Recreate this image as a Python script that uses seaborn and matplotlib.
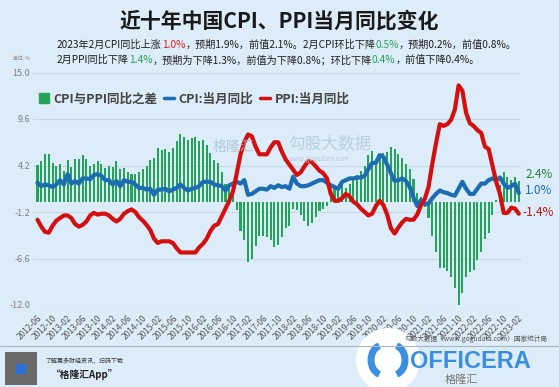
import numpy as np
import pandas as pd
import matplotlib
matplotlib.use("Agg")
import matplotlib.pyplot as plt
import seaborn as sns
from matplotlib.lines import Line2D
from matplotlib.patches import Patch, Ellipse, Rectangle, Arc

# ---------------- data ----------------
months = pd.period_range("2012-06", "2023-02", freq="M").strftime("%Y-%m").tolist()

cpi = [2.2, 1.8, 2.0, 1.9, 1.7, 2.0, 2.5,
       2.0, 3.2, 2.1, 2.4, 2.1, 2.7, 2.7, 2.6, 3.1, 3.2, 3.0, 2.5,
       2.5, 2.0, 2.4, 1.8, 2.5, 2.3, 2.3, 2.0, 1.6, 1.6, 1.4, 1.5,
       0.8, 1.4, 1.4, 1.5, 1.2, 1.4, 1.6, 2.0, 1.6, 1.3, 1.5, 1.6,
       1.8, 2.3, 2.3, 2.3, 2.0, 1.9, 1.8, 1.3, 1.9, 2.1, 2.3, 2.1,
       2.5, 0.8, 0.9, 1.2, 1.5, 1.5, 1.4, 1.8, 1.6, 1.9, 1.7, 1.8,
       1.5, 2.9, 2.1, 1.8, 1.8, 1.9, 2.1, 2.3, 2.5, 2.5, 2.2, 1.9,
       1.7, 1.5, 2.3, 2.5, 2.7, 2.7, 2.8, 2.8, 3.0, 3.8, 4.5, 4.5,
       5.4, 5.2, 4.3, 3.3, 2.4, 2.5, 2.7, 2.4, 1.7, 0.5, -0.5, 0.2,
       -0.3, -0.2, 0.4, 0.9, 1.3, 1.1, 1.0, 0.8, 0.7, 1.5, 2.3, 1.5,
       0.9, 0.9, 1.5, 2.1, 2.1, 2.5, 2.7, 2.5, 2.8, 2.1, 1.6, 1.8,
       2.1, 1.0]

ppi = [-2.1, -2.9, -3.5, -3.6, -2.8, -2.2, -1.9,
       -1.6, -1.6, -1.9, -2.6, -2.9, -2.7, -2.3, -1.6, -1.3, -1.5, -1.4, -1.4,
       -1.6, -2.0, -2.3, -2.0, -1.4, -1.1, -0.9, -1.2, -1.8, -2.2, -2.7, -3.3,
       -4.3, -4.8, -4.6, -4.6, -4.6, -4.8, -5.4, -5.9, -5.9, -5.9, -5.9, -5.9,
       -5.3, -4.9, -4.3, -3.4, -2.8, -2.6, -1.7, -0.8, 0.1, 1.2, 3.3, 5.5,
       6.9, 7.8, 7.6, 6.4, 5.5, 5.5, 5.5, 6.3, 6.9, 6.9, 5.8, 4.9,
       4.3, 3.7, 3.1, 3.4, 4.1, 4.7, 4.6, 4.1, 3.6, 3.3, 2.7, 0.9,
       0.1, 0.1, 0.4, 0.9, 0.6, 0.0, -0.3, -0.8, -1.2, -1.6, -1.4, -0.5,
       0.1, -0.4, -1.5, -3.1, -3.7, -3.0, -2.4, -2.0, -2.1, -2.1, -1.5, -0.4,
       0.3, 1.7, 4.4, 6.8, 9.0, 8.8, 9.0, 9.5, 10.7, 13.5, 12.9, 10.3,
       9.1, 8.8, 8.3, 8.0, 6.4, 6.1, 4.2, 2.3, 0.9, -1.3, -1.3, -0.7,
       -0.8, -1.4]

y_ticks = [15.0, 9.6, 4.2, -1.2, -6.6, -12.0]
x_tick_labels = months[::4]
legend_labels = ["CPI与PPI同比之差", "CPI:当月同比", "PPI:当月同比"]
end_labels = ["2.4%", "1.0%", "-1.4%"]

# CPI与PPI同比之差 (definition of the bar series)
diff = np.round(np.array(cpi) - np.array(ppi), 1)

df = pd.DataFrame({"idx": np.arange(len(months)), "month": months,
                   "cpi": cpi, "ppi": ppi, "diff": diff})

# ---------------- style ----------------
sns.set_theme(style="white")
plt.rcParams["font.family"] = ["Noto Sans CJK SC", "DejaVu Sans"]
plt.rcParams["axes.unicode_minus"] = False

BG = "#dcecf8"
GRID = "#c8d9e6"
GREEN = "#25a35a"
BLUE = "#1c6cb4"
RED = "#d40f0f"

W, H = 559, 387
fig = plt.figure(figsize=(W / 100, H / 100), dpi=100, facecolor=BG)


def fx(x):
    return x / W


def fy(y):
    return 1 - y / H


ax = fig.add_axes([fx(33), fy(305), (521 - 33) / W, (305 - 72.5) / H])
ax.set_facecolor(BG)

sns.barplot(data=df, x="idx", y="diff", native_scale=True, width=0.55,
            color=GREEN, saturation=1, errorbar=None, ax=ax, zorder=2,
            linewidth=0, edgecolor="none")
sns.lineplot(data=df, x="idx", y="cpi", color=BLUE, lw=3.0, ax=ax, zorder=3)
sns.lineplot(data=df, x="idx", y="ppi", color=RED, lw=3.0, ax=ax, zorder=4)

ax.set_xlim(-1.2, 128.6)
ax.set_ylim(-12, 15)
ax.set_yticks(y_ticks)
ax.set_yticklabels([f"{v:.1f}" for v in y_ticks])
ax.set_xticks(range(0, len(months), 4))
ax.set_xticklabels(x_tick_labels, rotation=45, ha="right", rotation_mode="anchor")
ax.tick_params(axis="x", length=0, labelsize=6, labelcolor="#555555", pad=6)
ax.tick_params(axis="y", length=0, labelsize=6.5, labelcolor="#808080", pad=2)
ax.grid(axis="y", color=GRID, lw=0.8)
ax.grid(axis="x", visible=False)
ax.set_axisbelow(True)
for s in ax.spines.values():
    s.set_visible(False)
ax.set_xlabel("")
ax.set_ylabel("")

# legend
handles = [Patch(color=GREEN), Line2D([], [], color=BLUE, lw=2.5),
           Line2D([], [], color=RED, lw=2.5)]
leg = ax.legend(handles, legend_labels, ncol=3, frameon=False, loc="center left",
                bbox_to_anchor=(fx(39), fy(99)), bbox_transform=fig.transFigure,
                prop={"size": 9, "weight": "bold"}, handlelength=0.8,
                handleheight=0.8, handletextpad=0.35, columnspacing=0.55,
                borderaxespad=0, borderpad=0)
for t in leg.get_texts():
    t.set_color("#444444")

# ---------------- texts ----------------
fig.text(0.5, fy(21), "近十年中国CPI、PPI当月同比变化", ha="center", va="center",
         fontsize=15, fontweight="bold", color="#1a1a1a")

renderer = fig.canvas.get_renderer()


def rich(x, y, parts, size):
    for s, c in parts:
        t = fig.text(fx(x), fy(y), s, color=c, fontsize=size, ha="left", va="center")
        x += t.get_window_extent(renderer=renderer).width


DARK = "#1e1e1e"
TGREEN = "#2aa05a"
TRED = "#e0201f"
rich(57, 45, [("2023年2月CPI同比上涨", DARK), ("1.0%", TRED),
              ("，预期1.9%，前值2.1%。2月CPI环比下降", DARK), ("0.5%", TGREEN),
              ("，预期0.2%，前值0.8%。", DARK)], 7.3)
rich(57, 60, [("2月PPI同比下降", DARK), ("1.4%", TGREEN),
              ("，预期为下降1.3%，前值为下降0.8%；环比下降", DARK), ("0.4%", TGREEN),
              ("，前值下降0.4%。", DARK)], 7.3)

fig.text(fx(13), fy(59), "单位: %", fontsize=3.5, color="#888888", va="center")

# end labels
fig.text(fx(525), fy(174), end_labels[0], color="#2b7a3c", fontsize=8.5, va="center")
fig.text(fx(525), fy(190), end_labels[1], color=BLUE, fontsize=8.5, va="center")
fig.text(fx(522), fy(213), end_labels[2], color="#c01010", fontsize=8.5, va="center")

# watermarks
fig.text(fx(213), fy(147), "格隆汇", color="#a8c0d2", fontsize=10, va="center", alpha=0.8)
fig.text(fx(288), fy(144), "勾股大数据", color="#b7cbdb", fontsize=12, va="center", alpha=0.9)
fig.text(fx(290), fy(159), "www.gogudata.com", color="#b7cbdb", fontsize=4.5, va="center")

# footer
fig.add_artist(Line2D([0, 1], [fy(346), fy(346)], color="#aab6c0", lw=0.8,
                      transform=fig.transFigure))
fig.text(fx(548), fy(339), "勾股大数据（www.gogudata.com）国家统计局", ha="right",
         va="center", fontsize=4.8, color="#555555")

fig.add_artist(Rectangle((fx(5), fy(385)), 32 / W, 33 / H, transform=fig.transFigure,
                         facecolor="#6a6a6a", edgecolor="none"))
fig.add_artist(Rectangle((fx(16), fy(374)), 10 / W, 10 / H, transform=fig.transFigure,
                         facecolor="#2a6fd6", edgecolor="none"))
fig.text(fx(45), fy(361), "了解更多财经资讯，扫码下载", fontsize=4.3, color="#333333", va="center")
fig.text(fx(50), fy(374), "“格隆汇App”", fontsize=7, fontweight="bold", style="italic",
         color="#222222", va="center")

# OFFICERA overlay
fig.add_artist(Ellipse((fx(388), fy(360)), 64 / W, 64 / H, transform=fig.transFigure,
                       facecolor="white", edgecolor="none"))
fig.add_artist(Arc((fx(383), fy(360)), 24 / W, 30 / H, theta1=100, theta2=260,
                   transform=fig.transFigure, color="#3a8fe2", lw=5))
fig.add_artist(Arc((fx(393), fy(360)), 24 / W, 30 / H, theta1=-80, theta2=80,
                   transform=fig.transFigure, color="#3a8fe2", lw=5))
fig.text(fx(410), fy(361), "OFFICERA", fontsize=17, fontweight="bold",
         family=["Liberation Sans", "DejaVu Sans"], color="#3a8fe2", va="center")
fig.text(fx(445), fy(380), "格隆汇", fontsize=8, color="#777777", va="center")

fig.savefig("out.png", dpi=100, facecolor=BG)
